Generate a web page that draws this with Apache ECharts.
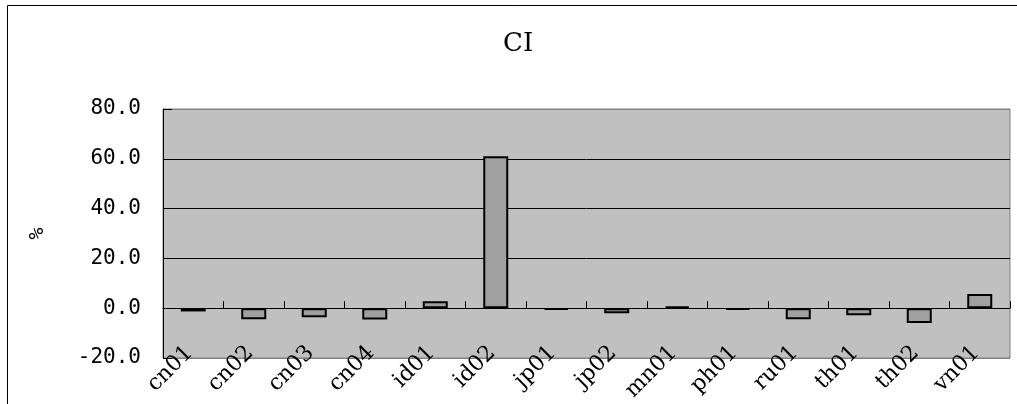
<!DOCTYPE html>
<html>
<head>
<meta charset="utf-8">
<script src="https://cdn.jsdelivr.net/npm/echarts@6/dist/echarts.min.js"></script>
<style>html,body{margin:0;padding:0;background:#fff;}#c{width:1017px;height:404px;}</style>
</head>
<body>
<div id="c"></div>
<script>
const categories = ['cn01','cn02','cn03','cn04','id01','id02','jp01','jp02','mn01','ph01','ru01','th01','th02','vn01'];
const ciValues = [-1.3, -4.4, -3.6, -4.5, 2.8, 61.0, -0.6, -2.0, 0.7, -0.6, -4.4, -2.8, -5.9, 5.7];
const titleText = 'CI';
const yAxisName = '%';
const yMin = -20, yMax = 80, yStep = 20;

const gridTop = 109, gridBottom = 46, chartH = 404;
const plotH = chartH - gridTop - gridBottom;
const zeroBottom = gridBottom + plotH * (0 - yMin) / (yMax - yMin);

const chart = echarts.init(document.getElementById('c'), null, {renderer: 'canvas'});
chart.setOption({
  animation: false,
  backgroundColor: '#ffffff',
  title: {
    text: titleText,
    left: 498,
    top: 26,
    textStyle: {fontFamily: 'DejaVu Serif', fontSize: 26, fontWeight: 'normal', color: '#000'}
  },
  graphic: [{
    type: 'rect',
    shape: {x: 7.5, y: 5.5, width: 1200, height: 600},
    style: {fill: 'none', stroke: '#000', lineWidth: 1},
    silent: true
  }],
  grid: [{
    left: 163, right: 7, top: gridTop, bottom: gridBottom,
    show: true, backgroundColor: '#C0C0C0', borderColor: '#808080', borderWidth: 1,
    containLabel: false,
    outerBoundsMode: 'none'
  }, {
    left: 163, right: 7, top: gridTop, bottom: zeroBottom,
    show: false,
    containLabel: false,
    outerBoundsMode: 'none'
  }],
  xAxis: [{
    type: 'category',
    gridIndex: 0,
    data: categories,
    boundaryGap: true,
    axisLine: {show: false, onZero: false},
    axisTick: {show: false},
    axisLabel: {interval: 0, rotate: 45, margin: -12, padding: [0, 5, 0, 0], fontFamily: 'DejaVu Serif', fontSize: 22, color: '#000'},
    splitLine: {show: false}
  }, {
    type: 'category',
    gridIndex: 1,
    data: categories,
    position: 'bottom',
    boundaryGap: true,
    axisLine: {show: true, onZero: false, lineStyle: {color: '#000', width: 1}},
    axisTick: {show: true, inside: true, length: 7, interval: 0, alignWithLabel: false, lineStyle: {color: '#000'}},
    axisLabel: {show: false},
    splitLine: {show: false}
  }],
  yAxis: [{
    type: 'value',
    gridIndex: 0,
    min: yMin, max: yMax, interval: yStep,
    name: yAxisName,
    nameLocation: 'middle',
    nameRotate: 90,
    nameGap: 115,
    nameTextStyle: {fontFamily: 'DejaVu Sans Mono', fontSize: 20, color: '#000'},
    axisLine: {show: true, onZero: false, lineStyle: {color: '#000', width: 1}},
    axisTick: {show: true, inside: true, length: 9, lineStyle: {color: '#000'}},
    axisLabel: {margin: 22, padding: [6, 0, 0, 0], fontFamily: 'DejaVu Sans Mono', fontSize: 21, color: '#000',
      formatter: v => v.toFixed(1)},
    splitLine: {show: true, lineStyle: {color: ['#808080', '#000', '#000', '#000', '#000', '#808080'], width: 1}}
  }, {
    type: 'value',
    gridIndex: 1,
    min: 0, max: yMax,
    show: false,
    axisLine: {show: false}, axisTick: {show: false}, axisLabel: {show: false}, splitLine: {show: false}
  }],
  series: [{
    type: 'bar',
    xAxisIndex: 0,
    yAxisIndex: 0,
    data: ciValues,
    barWidth: 25,
    z: 3,
    itemStyle: {color: '#A0A0A0', borderColor: '#000', borderWidth: 2}
  }]
});
</script>
</body>
</html>
